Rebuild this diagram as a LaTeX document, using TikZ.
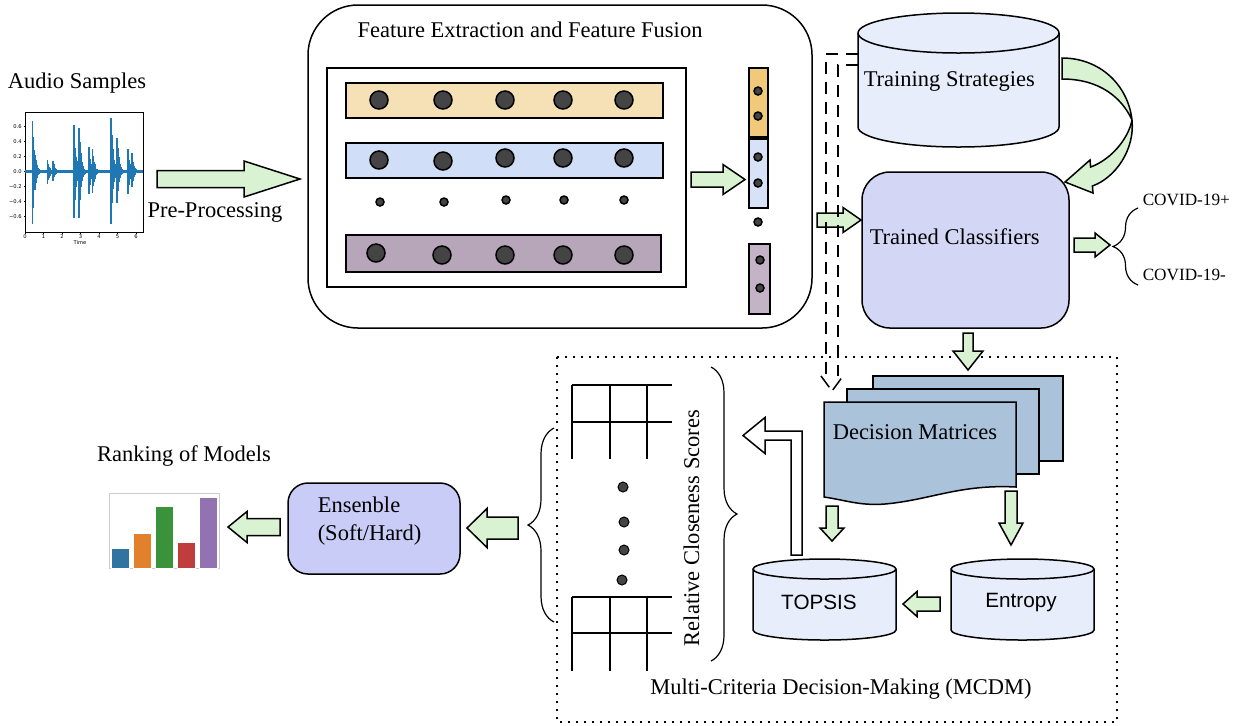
\documentclass[tikz,border=0pt]{standalone}
\usepackage{fontspec}
\setmainfont{Liberation Serif}
\newfontfamily\sansf{Liberation Sans}
\newfontfamily\dvs{DejaVu Sans}
\usetikzlibrary{decorations.pathreplacing}

\definecolor{agreen}{RGB}{217,242,210}
\definecolor{rowor}{RGB}{246,224,181}
\definecolor{rowbl}{RGB}{208,222,248}
\definecolor{rowpu}{RGB}{183,165,186}
\definecolor{vecor}{RGB}{240,201,122}
\definecolor{vecbl}{RGB}{215,226,248}
\definecolor{vecpu}{RGB}{196,179,199}
\definecolor{dotgray}{RGB}{68,68,68}
\definecolor{cylfill}{RGB}{231,237,250}
\definecolor{tcfill}{RGB}{212,214,246}
\definecolor{ensfill}{RGB}{200,204,246}
\definecolor{dmfill}{RGB}{170,194,218}
\definecolor{wave}{RGB}{31,119,180}
\definecolor{sbblue}{RGB}{50,116,161}
\definecolor{sborange}{RGB}{225,129,44}
\definecolor{sbgreen}{RGB}{58,146,58}
\definecolor{sbred}{RGB}{192,61,62}
\definecolor{sbpurple}{RGB}{147,114,178}

\newcommand{\hblockarrow}[6]{%
  \draw[blockarrow] (#1,#4-#5) -- (#2,#4-#5) -- (#2,#4-#6) -- (#3,#4) -- (#2,#4+#6) -- (#2,#4+#5) -- (#1,#4+#5) -- cycle;}
\newcommand{\vblockarrow}[6]{%
  \draw[blockarrow] (#4-#5,#1) -- (#4-#5,#2) -- (#4-#6,#2) -- (#4,#3) -- (#4+#6,#2) -- (#4+#5,#2) -- (#4+#5,#1) -- cycle;}
\newcommand{\mycylinder}[6]{%
  \draw[cyl] (#1,#3) -- (#1,#4) arc[start angle=180,end angle=360,x radius=#5,y radius=#6] -- (#2,#3) arc[start angle=0,end angle=180,x radius=#5,y radius=#6] -- cycle;
  \draw[cyl,fill=none] (#1,#3) arc[start angle=180,end angle=360,x radius=#5,y radius=#6];}

\begin{document}
\begin{tikzpicture}[x=0.5pt,y=-0.5pt,line width=0.75pt,
  lbl/.style={font=\fontsize{11.25}{13.5}\selectfont,inner sep=0pt,anchor=base},
  smalllbl/.style={font=\fontsize{8.6}{10}\selectfont,inner sep=0pt,anchor=base west},
  sanslbl/.style={font=\sansf\fontsize{10.35}{12}\selectfont,inner sep=0pt,anchor=base},
  ticklbl/.style={font=\dvs\fontsize{2.6}{3}\selectfont,inner sep=0pt},
  blockarrow/.style={draw=black,fill=agreen,line width=0.75pt,line join=miter},
  hollowarrow/.style={draw=black,fill=white,line width=0.75pt,line join=miter},
  cyl/.style={draw=black,fill=cylfill,line width=0.75pt},
  bigdot/.style={draw=black,fill=dotgray,line width=0.75pt},
  waveline/.style={draw=wave,line width=0.8pt},
  dashline/.style={draw=black,line width=0.75pt,dash pattern=on 6pt off 4pt},
  gridline/.style={draw=black,line width=1pt},
  bracestyle/.style={draw=black,line width=0.6pt,decorate},
]
\useasboundingbox (0,0) rectangle (1245,725);

% ---------------- Audio samples ----------------
\node[lbl] (audio) at (77,88) {Audio Samples};
\draw[line width=0.5pt] (25,112) rectangle (143,232);
\draw[wave,line width=1.3pt] (25,171.7) -- (143,171.7);
\foreach \bt/\bA/\bB in {0.40/0.68/0.70,0.55/0.22/0.25,1.22/0.15/0.16,1.52/0.14/0.12,2.65/0.62/0.62,2.93/0.58/0.62,3.45/0.33/0.30,3.65/0.30/0.28,4.66/0.71/0.70,4.98/0.45/0.42,5.57/0.30/0.30,5.78/0.25/0.20}{
  \foreach \bk in {0,...,24}{
    \draw[waveline] ({25+18.5*(\bt+0.017*\bk)},{171.7-75*\bA*exp(-0.16*\bk)*(0.5+0.5*abs(cos(\bk*77)))}) --
                    ({25+18.5*(\bt+0.017*\bk)},{171.7+75*\bB*exp(-0.16*\bk)*(0.5+0.5*abs(cos(\bk*53)))});
  }
}
\foreach \yy/\tl in {126.7/0.6,141.7/0.4,156.7/0.2,171.7/0.0,186.7/−0.2,201.7/−0.4,216.7/−0.6}{
  \draw[line width=0.3pt] (25,\yy) -- (23.5,\yy);
  \node[ticklbl,anchor=east] at (22.5,\yy) {\tl};
}
\foreach \xx in {0,...,6}{
  \draw[line width=0.3pt] ({25+18.5*\xx},232) -- ({25+18.5*\xx},233.5);
  \node[ticklbl,anchor=north] at ({25+18.5*\xx},234) {\xx};
}
\node[ticklbl,anchor=north] (timelbl) at (80,240) {Time};

% Pre-processing arrow
\hblockarrow{157}{244}{300}{179}{8.5}{18}
\node[lbl] (pre) at (215,217) {Pre-Processing};

% ---------------- Feature extraction ----------------
\draw[rounded corners=25pt] (308,5) rectangle (812,328);
\node[lbl] (fetitle) at (530,37) {Feature Extraction and Feature Fusion};
\draw (327,68) rectangle (686,287);
\draw[fill=rowor] (346,83) rectangle (663,118);
\draw[fill=rowbl] (346,143) rectangle (663,178);
\draw[fill=rowpu] (346,235) rectangle (661,272);
\foreach \xx in {379,443,505,563,624}{
  \draw[bigdot] (\xx,100) circle[radius=4.5pt];
}
\foreach \xx/\yy in {379/160,443/161,505/158,563/158,624/158}{
  \draw[bigdot] (\xx,\yy) circle[radius=4.5pt];
}
\foreach \xx/\yy in {380/202,444/202,506/200,564/200,624/200}{
  \draw[bigdot] (\xx,\yy) circle[radius=2pt];
}
\foreach \xx/\yy in {376/253,442/255,505/255,563/255,624/255}{
  \draw[bigdot] (\xx,\yy) circle[radius=4.5pt];
}
\hblockarrow{691}{723}{745}{179.5}{7.5}{15}
% fused vector
\draw[fill=vecor] (749,68) rectangle (768,137);
\draw[fill=vecbl] (749,139) rectangle (768,208);
\draw[fill=vecpu] (749,244) rectangle (770,314);
\foreach \yy in {91,116,157,183}{
  \draw[bigdot] (758,\yy) circle[radius=2pt];
}
\draw[bigdot] (758,222) circle[radius=2pt];
\foreach \yy in {260,288}{
  \draw[bigdot] (760,\yy) circle[radius=2pt];
}

% ---------------- MCDM border ----------------
\draw[line width=0.9pt,dash pattern=on 0.9pt off 3.1pt] (557,357) rectangle (1117,722);
\node[lbl] (mcdm) at (841,694) {Multi-Criteria Decision-Making (MCDM)};

% ---------------- Training strategies ----------------
\mycylinder{858}{1059}{33}{127}{50.25pt}{10pt}
\node[lbl,anchor=base west] (ts) at (863,86) {Training Strategies};
\draw[blockarrow] (1062,58) .. controls (1100,58) and (1128,85) .. (1132,120)
   .. controls (1135,150) and (1115,178) .. (1092.4,186) -- (1093,193) -- (1065,182) -- (1090,160) -- (1090.6,167)
   .. controls (1110,160) and (1128,140) .. (1132,120)
   .. controls (1122,98) and (1100,79) .. (1062,79) -- cycle;

% ---------------- Trained classifiers ----------------
\draw[fill=tcfill,rounded corners=14pt] (862,172) rectangle (1069,328);
\node[lbl,anchor=base west] (tc) at (869,244) {Trained Classifiers};
\hblockarrow{817}{843}{861}{220}{7}{12.5}
\hblockarrow{1074}{1095}{1110}{245}{7}{12}
\draw[bracestyle,decoration={brace,amplitude=12.5pt}] (1138,285) -- (1138,208);
\node[smalllbl] (covp) at (1142,205) {COVID-19+};
\node[smalllbl] (covn) at (1142,280) {COVID-19-};

% dashed double arrow
\coordinate (dsA) at (858,54);
\coordinate (dsB) at (858,65);
\coordinate (dsTip) at (832,391);
\draw[dashline] (dsA) -- (826,54) -- (826,376);
\draw[dashline] (dsB) -- (838,65) -- (838,376);
\draw[dashline,dash pattern=on 7pt off 3pt] (821,376) -- (dsTip) -- (843,376);

% arrow down to decision matrices
\vblockarrow{333}{351}{370}{968}{5}{15}

% ---------------- Decision matrices ----------------
\draw[fill=dmfill] (873,376) rectangle (1063,461);
\draw[fill=dmfill] (847,389) rectangle (1039,474);
\draw[fill=dmfill] (824,402) -- (1016,402) -- (1016,487) .. controls (960,484) and (930,500) .. (885,504) .. controls (860,506) and (845,500) .. (824,497) -- cycle;
\node[lbl,anchor=base west] (dm) at (832,439) {Decision Matrices};

\vblockarrow{506}{528}{541}{832}{6}{12}
\vblockarrow{491}{523}{545}{1011}{6}{12}

% ---------------- TOPSIS / Entropy ----------------
\mycylinder{753}{896}{569}{630}{35.75pt}{5pt}
\node[sanslbl] (topsis) at (819,609) {TOPSIS};
\mycylinder{951}{1094}{569}{630}{35.75pt}{5pt}
\node[sanslbl] (entropy) at (1021,607) {Entropy};
\hblockarrow{940}{917}{903}{604}{7}{12.5}

% hollow arrow TOPSIS -> scores
\draw[hollowarrow] (791,555) -- (791,440) -- (765,440) -- (765,453.5) -- (743,435.5) -- (765,417.5) -- (765,431) -- (802,431) -- (802,555) -- cycle;

% ---------------- score grids ----------------
\draw[gridline] (572,385) -- (672,385);
\draw[gridline] (572,422) -- (672,422);
\foreach \xx in {572,610,647}{ \draw[gridline] (\xx,385) -- (\xx,459); }
\draw[gridline] (572,597) -- (672,597);
\draw[gridline] (572,633) -- (672,633);
\foreach \xx in {572,610,647}{ \draw[gridline] (\xx,597) -- (\xx,671); }
\foreach \xx/\yy in {623/487,624/522,624/550,622/580}{
  \draw[bigdot,line width=0.5pt] (\xx,\yy) circle[radius=2.5pt];
}
\draw[bracestyle,decoration={brace,amplitude=13pt}] (711,367) -- (711,661);
\node[lbl,rotate=90] (rcs) at (699,528) {Relative Closeness Scores};
\draw[bracestyle,decoration={brace,amplitude=13pt}] (554,622) -- (554,428);

% ---------------- Ensemble ----------------
\hblockarrow{518}{487}{467}{528}{11}{19.5}
\draw[fill=ensfill,rounded corners=10pt] (288,483) rectangle (460,574);
\node[lbl,anchor=base west] (ens1) at (317,512) {Ensenble};
\node[lbl,anchor=base west] (ens2) at (317,540) {(Soft/Hard)};
\hblockarrow{280}{247}{228}{527}{8.5}{15.5}

% ---------------- Ranking ----------------
\node[lbl] (rank) at (184,461) {Ranking of Models};
\draw[draw={rgb,255:red,205;green,205;blue,205},line width=0.5pt] (109,493) rectangle (219,568);
\foreach \xa/\xb/\yt/\cc in {111.5/129.5/548/sbblue,133.5/151.5/533/sborange,155.5/173.5/506/sbgreen,177.5/195.5/542/sbred,199.5/217.5/497/sbpurple}{
  \draw[fill=\cc,draw=white,line width=0.4pt] (\xa,\yt) rectangle (\xb,568);
}
\end{tikzpicture}
\end{document}
